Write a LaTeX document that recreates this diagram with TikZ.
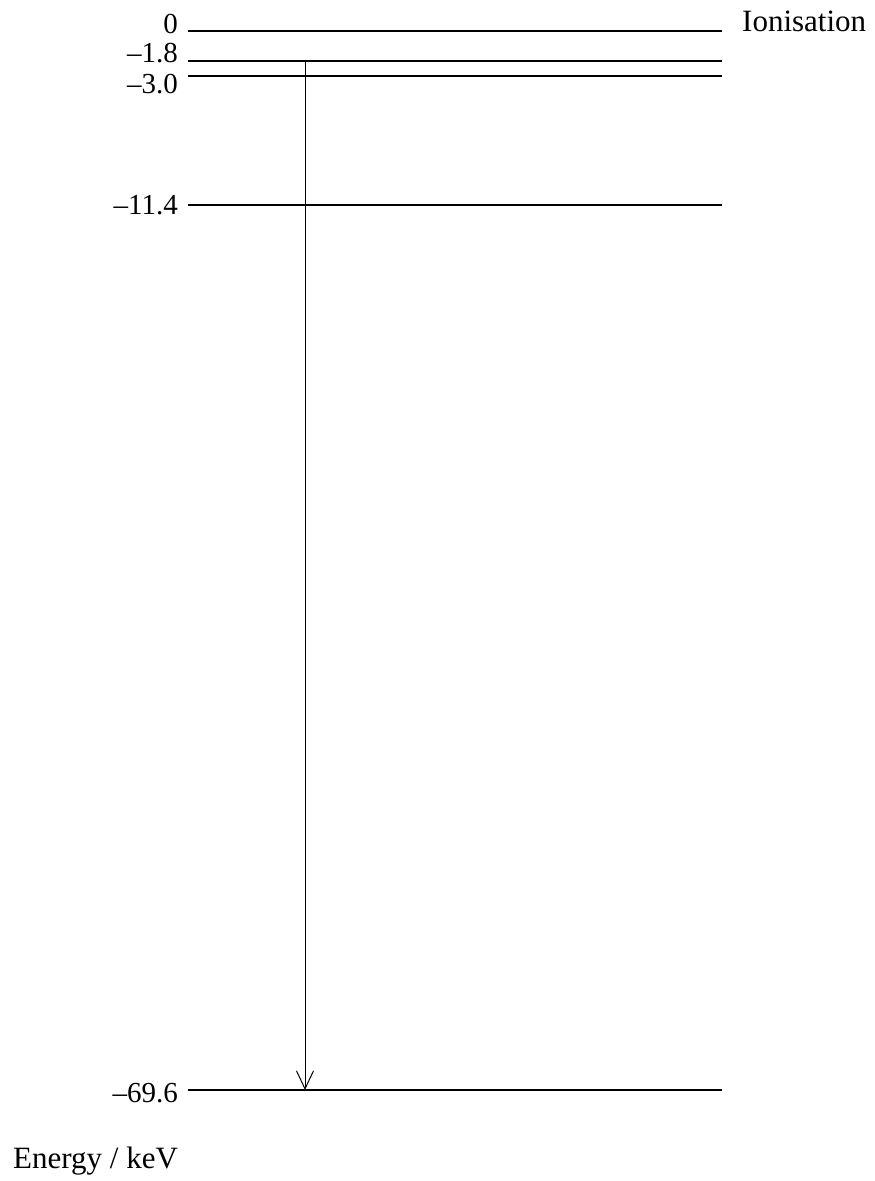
\documentclass[tikz,border=0pt]{standalone}
\usepackage{fontspec}
\setmainfont{Liberation Serif}
\usetikzlibrary{arrows.meta}

\begin{document}
\begin{tikzpicture}
	[x=1pt, y=-1pt,
	level/.style={line width=1.1pt, black},
	levellabel/.style={anchor=east, inner sep=0pt, font=\fontsize{29}{29}\selectfont},
	transition/.style={-{Straight Barb[length=18pt, width=17pt]}, line width=1pt, black}]
	
	\useasboundingbox (0,0) rectangle (875,1181);
	
	% Draw energy levels
	\foreach \name/\y/\ty/\val in {L0/31/24/0, L1/61/53/--1.8, L2/76/84/--3.0, L3/205/205/--11.4, L4/1090/1093/--69.6}
	{
		\coordinate (\name W) at (188, \y);
		\coordinate (\name E) at (722, \y);
		\draw[level] (\name W) -- (\name E);
		\node[levellabel] (\name T) at (178, \ty) {\val};
	}
	
	% Draw ionisation label
	\node[anchor=base west, inner sep=0pt, font=\fontsize{31}{31}\selectfont] (ion) at ([xshift=20pt]L0E) {Ionisation};
	
	% Draw transition
	\coordinate (top) at (305, 61);
	\coordinate (bottom) at (305, 1090);
	\draw[transition] (top) -- (bottom);
	
	% Draw axis label
	\node[anchor=base west, inner sep=0pt, font=\fontsize{31}{31}\selectfont] (unit) at (13, 1168) {Energy / keV};
	
\end{tikzpicture}
\end{document}
